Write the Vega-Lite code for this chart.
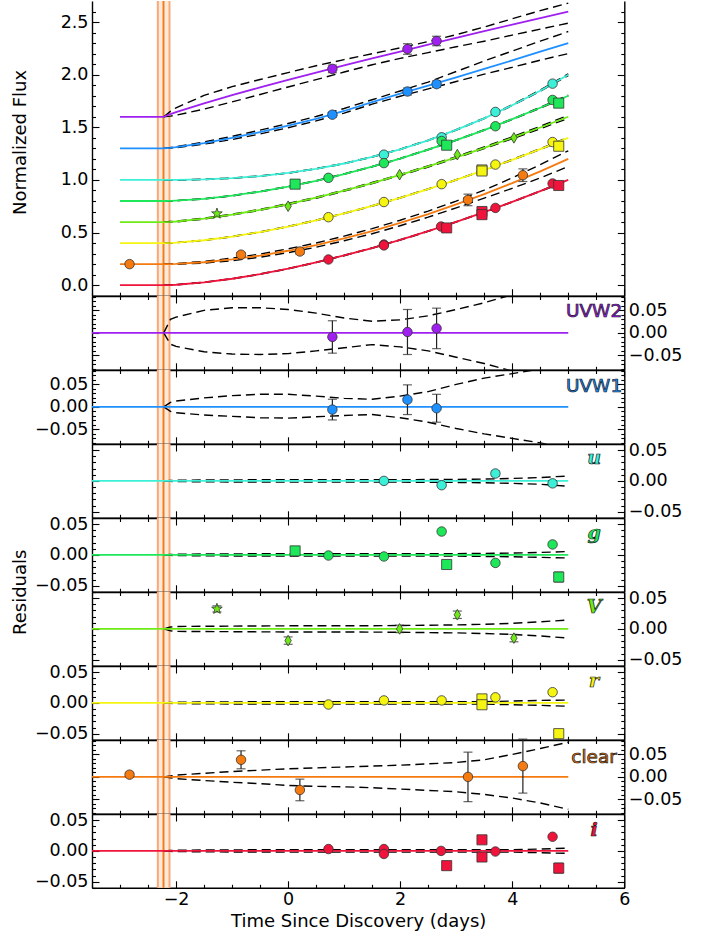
{
"$schema":"https://vega.github.io/schema/vega-lite/v6.json",
"background":"white",
"padding":{"left":11,"top":0,"right":5,"bottom":5},
"spacing":0,
"bounds":"flush",
"config":{
 "view":{"stroke":null},
 "axis":{"labelFont":"DejaVu Sans","labelFontSize":17.5,"labelColor":"#000","titleFont":"DejaVu Sans","titleFontSize":18,"titleFontWeight":"normal","titleColor":"#000","domainColor":"#000","domainWidth":1.4,"tickColor":"#000","tickWidth":1.1,"grid":false,"labelFlush":false,"labelOverlap":false}
},
"datasets":{
 "t0":[{"lo":-2.325,"mid":-2.224,"hi":-2.117}],
 "obs":[
  {"b":"UVW2","m":"circle","t":0.79,"flux":2.055,"res":-0.009,"err":0.036,"flo":2.019,"fhi":2.091,"rlo":-0.045,"rhi":0.027},
  {"b":"UVW2","m":"circle","t":2.13,"flux":2.244,"res":0.002,"err":0.05,"flo":2.194,"fhi":2.294,"rlo":-0.048,"rhi":0.052},
  {"b":"UVW2","m":"circle","t":2.65,"flux":2.32,"res":0.01,"err":0.045,"flo":2.275,"fhi":2.365,"rlo":-0.035,"rhi":0.055},
  {"b":"UVW1","m":"circle","t":0.79,"flux":1.62,"res":-0.006,"err":0.023,"flo":1.597,"fhi":1.643,"rlo":-0.029,"rhi":0.017},
  {"b":"UVW1","m":"circle","t":2.13,"flux":1.84,"res":0.016,"err":0.033,"flo":1.807,"fhi":1.873,"rlo":-0.017,"rhi":0.049},
  {"b":"UVW1","m":"circle","t":2.65,"flux":1.91,"res":-0.003,"err":0.031,"flo":1.879,"fhi":1.941,"rlo":-0.034,"rhi":0.028},
  {"b":"u","m":"circle","t":1.71,"flux":1.24,"res":0.0,"err":0.002,"flo":1.238,"fhi":1.242,"rlo":-0.002,"rhi":0.002},
  {"b":"u","m":"circle","t":2.74,"flux":1.405,"res":-0.007,"err":0.002,"flo":1.403,"fhi":1.407,"rlo":-0.009,"rhi":-0.005},
  {"b":"u","m":"circle","t":3.7,"flux":1.646,"res":0.012,"err":0.004,"flo":1.642,"fhi":1.65,"rlo":0.008,"rhi":0.016},
  {"b":"u","m":"circle","t":4.72,"flux":1.915,"res":-0.004,"err":0.004,"flo":1.911,"fhi":1.919,"rlo":-0.008,"rhi":0.0},
  {"b":"g","m":"square","t":0.125,"flux":0.96,"res":0.0065,"err":0.002,"flo":0.958,"fhi":0.962,"rlo":0.0045,"rhi":0.0085},
  {"b":"g","m":"circle","t":0.72,"flux":1.02,"res":-0.001,"err":0.002,"flo":1.018,"fhi":1.022,"rlo":-0.003,"rhi":0.001},
  {"b":"g","m":"circle","t":1.71,"flux":1.16,"res":-0.0026,"err":0.002,"flo":1.158,"fhi":1.162,"rlo":-0.0046,"rhi":-0.0006},
  {"b":"g","m":"circle","t":2.74,"flux":1.37,"res":0.038,"err":0.003,"flo":1.367,"fhi":1.373,"rlo":0.035,"rhi":0.041},
  {"b":"g","m":"square","t":2.83,"flux":1.33,"res":-0.0156,"err":0.002,"flo":1.328,"fhi":1.332,"rlo":-0.0176,"rhi":-0.0136},
  {"b":"g","m":"circle","t":3.7,"flux":1.51,"res":-0.013,"err":0.002,"flo":1.508,"fhi":1.512,"rlo":-0.015,"rhi":-0.011},
  {"b":"g","m":"circle","t":4.72,"flux":1.76,"res":0.017,"err":0.003,"flo":1.757,"fhi":1.763,"rlo":0.014,"rhi":0.02},
  {"b":"g","m":"square","t":4.83,"flux":1.73,"res":-0.036,"err":0.008,"flo":1.722,"fhi":1.738,"rlo":-0.044,"rhi":-0.028},
  {"b":"V","m":"star","t":-1.27,"flux":0.68,"res":0.0325,"err":0.005,"flo":0.675,"fhi":0.685,"rlo":0.0275,"rhi":0.0375},
  {"b":"V","m":"diamond","t":0.0,"flux":0.75,"res":-0.019,"err":0.006,"flo":0.744,"fhi":0.756,"rlo":-0.025,"rhi":-0.013},
  {"b":"V","m":"diamond","t":1.99,"flux":1.05,"res":0.0,"err":0.006,"flo":1.044,"fhi":1.056,"rlo":-0.006,"rhi":0.006},
  {"b":"V","m":"diamond","t":3.02,"flux":1.24,"res":0.023,"err":0.006,"flo":1.234,"fhi":1.246,"rlo":0.017,"rhi":0.029},
  {"b":"V","m":"diamond","t":4.03,"flux":1.4,"res":-0.015,"err":0.006,"flo":1.394,"fhi":1.406,"rlo":-0.021,"rhi":-0.009},
  {"b":"r","m":"circle","t":0.72,"flux":0.646,"res":-0.0026,"err":0.002,"flo":0.644,"fhi":0.648,"rlo":-0.0046,"rhi":-0.0006},
  {"b":"r","m":"circle","t":1.71,"flux":0.79,"res":0.004,"err":0.002,"flo":0.788,"fhi":0.792,"rlo":0.002,"rhi":0.006},
  {"b":"r","m":"circle","t":2.74,"flux":0.96,"res":0.004,"err":0.002,"flo":0.958,"fhi":0.962,"rlo":0.002,"rhi":0.006},
  {"b":"r","m":"square","t":3.46,"flux":1.095,"res":0.0065,"err":0.002,"flo":1.093,"fhi":1.097,"rlo":0.0045,"rhi":0.0085},
  {"b":"r","m":"square","t":3.46,"flux":1.085,"res":-0.003,"err":0.002,"flo":1.083,"fhi":1.087,"rlo":-0.005,"rhi":-0.001},
  {"b":"r","m":"circle","t":3.7,"flux":1.146,"res":0.009,"err":0.002,"flo":1.144,"fhi":1.148,"rlo":0.007,"rhi":0.011},
  {"b":"r","m":"circle","t":4.72,"flux":1.36,"res":0.0174,"err":0.002,"flo":1.358,"fhi":1.362,"rlo":0.0154,"rhi":0.0194},
  {"b":"r","m":"square","t":4.83,"flux":1.32,"res":-0.05,"err":0.003,"flo":1.317,"fhi":1.323,"rlo":-0.053,"rhi":-0.047},
  {"b":"clear","m":"circle","t":-2.83,"flux":0.2,"res":0.005,"err":0.004,"flo":0.196,"fhi":0.204,"rlo":0.001,"rhi":0.009},
  {"b":"clear","m":"circle","t":-0.84,"flux":0.29,"res":0.038,"err":0.02,"flo":0.27,"fhi":0.31,"rlo":0.018,"rhi":0.058},
  {"b":"clear","m":"circle","t":0.21,"flux":0.32,"res":-0.029,"err":0.024,"flo":0.296,"fhi":0.344,"rlo":-0.053,"rhi":-0.005},
  {"b":"clear","m":"circle","t":3.21,"flux":0.81,"res":0.0,"err":0.055,"flo":0.755,"fhi":0.865,"rlo":-0.055,"rhi":0.055},
  {"b":"clear","m":"circle","t":4.19,"flux":1.045,"res":0.024,"err":0.06,"flo":0.985,"fhi":1.105,"rlo":-0.036,"rhi":0.084},
  {"b":"i","m":"circle","t":0.72,"flux":0.244,"res":0.003,"err":0.002,"flo":0.242,"fhi":0.246,"rlo":0.001,"rhi":0.005},
  {"b":"i","m":"circle","t":1.71,"flux":0.386,"res":0.003,"err":0.002,"flo":0.384,"fhi":0.388,"rlo":0.001,"rhi":0.005},
  {"b":"i","m":"circle","t":1.71,"flux":0.378,"res":-0.005,"err":0.002,"flo":0.376,"fhi":0.38,"rlo":-0.007,"rhi":-0.003},
  {"b":"i","m":"circle","t":2.73,"flux":0.557,"res":0.0,"err":0.002,"flo":0.555,"fhi":0.559,"rlo":-0.002,"rhi":0.002},
  {"b":"i","m":"square","t":2.83,"flux":0.544,"res":-0.024,"err":0.002,"flo":0.542,"fhi":0.546,"rlo":-0.026,"rhi":-0.022},
  {"b":"i","m":"square","t":3.46,"flux":0.7,"res":0.018,"err":0.005,"flo":0.695,"fhi":0.705,"rlo":0.013,"rhi":0.023},
  {"b":"i","m":"square","t":3.46,"flux":0.67,"res":-0.01,"err":0.005,"flo":0.665,"fhi":0.675,"rlo":-0.015,"rhi":-0.005},
  {"b":"i","m":"circle","t":3.7,"flux":0.734,"res":-0.001,"err":0.002,"flo":0.732,"fhi":0.736,"rlo":-0.003,"rhi":0.001},
  {"b":"i","m":"circle","t":4.72,"flux":0.966,"res":0.023,"err":0.003,"flo":0.963,"fhi":0.969,"rlo":0.02,"rhi":0.026},
  {"b":"i","m":"square","t":4.83,"flux":0.947,"res":-0.028,"err":0.008,"flo":0.939,"fhi":0.955,"rlo":-0.036,"rhi":-0.02}
 ],
 "model":[
  {"b":"UVW2","t":-3,"f":1.6,"fu":null,"fl":null,"ru":null,"rl":null},
  {"b":"UVW2","t":-2.22,"f":1.6,"fu":1.6,"fl":1.6,"ru":0,"rl":0},
  {"b":"UVW2","t":-2.1,"f":1.626,"fu":1.651,"fl":1.606,"ru":0.03,"rl":-0.025},
  {"b":"UVW2","t":-2,"f":1.645,"fu":1.685,"fl":1.615,"ru":0.035,"rl":-0.03},
  {"b":"UVW2","t":-1.5,"f":1.728,"fu":1.803,"fl":1.673,"ru":0.05,"rl":-0.042},
  {"b":"UVW2","t":-1,"f":1.806,"fu":1.886,"fl":1.741,"ru":0.056,"rl":-0.047},
  {"b":"UVW2","t":-0.5,"f":1.879,"fu":1.954,"fl":1.812,"ru":0.056,"rl":-0.048},
  {"b":"UVW2","t":0,"f":1.95,"fu":2.02,"fl":1.883,"ru":0.052,"rl":-0.046},
  {"b":"UVW2","t":0.5,"f":2.019,"fu":2.085,"fl":1.953,"ru":0.044,"rl":-0.04},
  {"b":"UVW2","t":1,"f":2.088,"fu":2.143,"fl":2.025,"ru":0.033,"rl":-0.033},
  {"b":"UVW2","t":1.5,"f":2.154,"fu":2.199,"fl":2.094,"ru":0.026,"rl":-0.026},
  {"b":"UVW2","t":2,"f":2.22,"fu":2.255,"fl":2.155,"ru":0.029,"rl":-0.031},
  {"b":"UVW2","t":2.5,"f":2.285,"fu":2.315,"fl":2.21,"ru":0.038,"rl":-0.04},
  {"b":"UVW2","t":3,"f":2.35,"fu":2.38,"fl":2.265,"ru":0.052,"rl":-0.054},
  {"b":"UVW2","t":3.5,"f":2.413,"fu":2.453,"fl":2.318,"ru":0.067,"rl":-0.068},
  {"b":"UVW2","t":4,"f":2.476,"fu":2.531,"fl":2.376,"ru":0.085,"rl":-0.085},
  {"b":"UVW2","t":4.5,"f":2.538,"fu":2.608,"fl":2.433,"ru":0.105,"rl":-0.105},
  {"b":"UVW2","t":5,"f":2.6,"fu":2.68,"fl":2.49,"ru":0.125,"rl":-0.125},
  {"b":"UVW1","t":-3,"f":1.3,"fu":null,"fl":null,"ru":null,"rl":null},
  {"b":"UVW1","t":-2.22,"f":1.3,"fu":1.3,"fl":1.3,"ru":0,"rl":0},
  {"b":"UVW1","t":-2.1,"f":1.305,"fu":1.308,"fl":1.302,"ru":0.01,"rl":-0.01},
  {"b":"UVW1","t":-2,"f":1.311,"fu":1.316,"fl":1.306,"ru":0.013,"rl":-0.013},
  {"b":"UVW1","t":-1.5,"f":1.35,"fu":1.36,"fl":1.34,"ru":0.02,"rl":-0.018},
  {"b":"UVW1","t":-1,"f":1.399,"fu":1.414,"fl":1.384,"ru":0.025,"rl":-0.021},
  {"b":"UVW1","t":-0.5,"f":1.455,"fu":1.473,"fl":1.437,"ru":0.028,"rl":-0.024},
  {"b":"UVW1","t":0,"f":1.516,"fu":1.536,"fl":1.496,"ru":0.028,"rl":-0.025},
  {"b":"UVW1","t":0.5,"f":1.581,"fu":1.603,"fl":1.561,"ru":0.024,"rl":-0.022},
  {"b":"UVW1","t":1,"f":1.655,"fu":1.679,"fl":1.635,"ru":0.019,"rl":-0.019},
  {"b":"UVW1","t":1.5,"f":1.74,"fu":1.762,"fl":1.72,"ru":0.017,"rl":-0.017},
  {"b":"UVW1","t":2,"f":1.82,"fu":1.845,"fl":1.795,"ru":0.024,"rl":-0.024},
  {"b":"UVW1","t":2.5,"f":1.895,"fu":1.93,"fl":1.865,"ru":0.034,"rl":-0.034},
  {"b":"UVW1","t":3,"f":1.975,"fu":2.03,"fl":1.935,"ru":0.05,"rl":-0.048},
  {"b":"UVW1","t":3.5,"f":2.055,"fu":2.13,"fl":2.005,"ru":0.064,"rl":-0.06},
  {"b":"UVW1","t":4,"f":2.135,"fu":2.225,"fl":2.07,"ru":0.074,"rl":-0.07},
  {"b":"UVW1","t":4.5,"f":2.218,"fu":2.318,"fl":2.138,"ru":0.084,"rl":-0.08},
  {"b":"UVW1","t":5,"f":2.3,"fu":2.41,"fl":2.2,"ru":0.095,"rl":-0.092},
  {"b":"u","t":-3,"f":1.0,"fu":null,"fl":null,"ru":null,"rl":null},
  {"b":"u","t":-2.22,"f":1.0,"fu":1.0,"fl":1.0,"ru":0,"rl":0},
  {"b":"u","t":-2.1,"f":1.0,"fu":1.0008,"fl":0.9992,"ru":0.0008,"rl":-0.0008},
  {"b":"u","t":-2,"f":1.0003,"fu":1.0013,"fl":0.9993,"ru":0.001,"rl":-0.001},
  {"b":"u","t":-1.5,"f":1.005,"fu":1.0065,"fl":1.0035,"ru":0.0015,"rl":-0.0015},
  {"b":"u","t":-1,"f":1.017,"fu":1.0187,"fl":1.0153,"ru":0.0017,"rl":-0.0017},
  {"b":"u","t":-0.5,"f":1.037,"fu":1.0388,"fl":1.0352,"ru":0.0018,"rl":-0.0018},
  {"b":"u","t":0,"f":1.066,"fu":1.068,"fl":1.064,"ru":0.002,"rl":-0.002},
  {"b":"u","t":0.5,"f":1.106,"fu":1.108,"fl":1.104,"ru":0.002,"rl":-0.002},
  {"b":"u","t":1,"f":1.156,"fu":1.158,"fl":1.154,"ru":0.002,"rl":-0.002},
  {"b":"u","t":1.5,"f":1.218,"fu":1.22,"fl":1.216,"ru":0.002,"rl":-0.002},
  {"b":"u","t":2,"f":1.291,"fu":1.293,"fl":1.289,"ru":0.002,"rl":-0.002},
  {"b":"u","t":2.5,"f":1.376,"fu":1.3782,"fl":1.3738,"ru":0.0022,"rl":-0.0022},
  {"b":"u","t":3,"f":1.475,"fu":1.4775,"fl":1.4725,"ru":0.0025,"rl":-0.0025},
  {"b":"u","t":3.5,"f":1.585,"fu":1.588,"fl":1.582,"ru":0.003,"rl":-0.003},
  {"b":"u","t":4,"f":1.71,"fu":1.714,"fl":1.706,"ru":0.004,"rl":-0.004},
  {"b":"u","t":4.5,"f":1.848,"fu":1.8535,"fl":1.8425,"ru":0.0055,"rl":-0.0055},
  {"b":"u","t":5,"f":2.0,"fu":2.008,"fl":1.992,"ru":0.008,"rl":-0.0086},
  {"b":"g","t":-3,"f":0.8,"fu":null,"fl":null,"ru":null,"rl":null},
  {"b":"g","t":-2.22,"f":0.8,"fu":0.8,"fl":0.8,"ru":0,"rl":0},
  {"b":"g","t":-2.1,"f":0.8006,"fu":0.8014,"fl":0.7998,"ru":0.0008,"rl":-0.0008},
  {"b":"g","t":-2,"f":0.803,"fu":0.804,"fl":0.802,"ru":0.001,"rl":-0.001},
  {"b":"g","t":-1.5,"f":0.82,"fu":0.8215,"fl":0.8185,"ru":0.0015,"rl":-0.0015},
  {"b":"g","t":-1,"f":0.85,"fu":0.8517,"fl":0.8483,"ru":0.0017,"rl":-0.0017},
  {"b":"g","t":-0.5,"f":0.889,"fu":0.8908,"fl":0.8872,"ru":0.0018,"rl":-0.0018},
  {"b":"g","t":0,"f":0.936,"fu":0.938,"fl":0.934,"ru":0.002,"rl":-0.002},
  {"b":"g","t":0.5,"f":0.992,"fu":0.994,"fl":0.99,"ru":0.002,"rl":-0.002},
  {"b":"g","t":1,"f":1.056,"fu":1.058,"fl":1.054,"ru":0.002,"rl":-0.002},
  {"b":"g","t":1.5,"f":1.126,"fu":1.128,"fl":1.124,"ru":0.002,"rl":-0.002},
  {"b":"g","t":2,"f":1.203,"fu":1.205,"fl":1.201,"ru":0.002,"rl":-0.002},
  {"b":"g","t":2.5,"f":1.288,"fu":1.29,"fl":1.286,"ru":0.002,"rl":-0.002},
  {"b":"g","t":3,"f":1.378,"fu":1.38,"fl":1.376,"ru":0.002,"rl":-0.002},
  {"b":"g","t":3.5,"f":1.474,"fu":1.4765,"fl":1.4715,"ru":0.0025,"rl":-0.0025},
  {"b":"g","t":4,"f":1.577,"fu":1.58,"fl":1.574,"ru":0.003,"rl":-0.003},
  {"b":"g","t":4.5,"f":1.686,"fu":1.69,"fl":1.682,"ru":0.004,"rl":-0.004},
  {"b":"g","t":5,"f":1.8,"fu":1.8055,"fl":1.7945,"ru":0.0055,"rl":-0.005},
  {"b":"V","t":-3,"f":0.6,"fu":null,"fl":null,"ru":null,"rl":null},
  {"b":"V","t":-2.22,"f":0.6,"fu":0.6,"fl":0.6,"ru":0,"rl":0},
  {"b":"V","t":-2.1,"f":0.602,"fu":0.605,"fl":0.599,"ru":0.003,"rl":-0.003},
  {"b":"V","t":-2,"f":0.605,"fu":0.609,"fl":0.601,"ru":0.004,"rl":-0.004},
  {"b":"V","t":-1.5,"f":0.632,"fu":0.6363,"fl":0.6277,"ru":0.0043,"rl":-0.0043},
  {"b":"V","t":-1,"f":0.67,"fu":0.6745,"fl":0.6655,"ru":0.0045,"rl":-0.0045},
  {"b":"V","t":-0.5,"f":0.716,"fu":0.7208,"fl":0.7112,"ru":0.0048,"rl":-0.0048},
  {"b":"V","t":0,"f":0.771,"fu":0.776,"fl":0.766,"ru":0.005,"rl":-0.005},
  {"b":"V","t":0.5,"f":0.831,"fu":0.836,"fl":0.826,"ru":0.005,"rl":-0.005},
  {"b":"V","t":1,"f":0.898,"fu":0.903,"fl":0.893,"ru":0.005,"rl":-0.005},
  {"b":"V","t":1.5,"f":0.97,"fu":0.9752,"fl":0.9648,"ru":0.0052,"rl":-0.0052},
  {"b":"V","t":2,"f":1.047,"fu":1.0525,"fl":1.0415,"ru":0.0055,"rl":-0.0055},
  {"b":"V","t":2.5,"f":1.128,"fu":1.134,"fl":1.122,"ru":0.006,"rl":-0.006},
  {"b":"V","t":3,"f":1.215,"fu":1.2215,"fl":1.2085,"ru":0.0065,"rl":-0.0065},
  {"b":"V","t":3.5,"f":1.305,"fu":1.3125,"fl":1.2975,"ru":0.0075,"rl":-0.0075},
  {"b":"V","t":4,"f":1.4,"fu":1.409,"fl":1.391,"ru":0.009,"rl":-0.009},
  {"b":"V","t":4.5,"f":1.498,"fu":1.5095,"fl":1.4865,"ru":0.0115,"rl":-0.0115},
  {"b":"V","t":5,"f":1.6,"fu":1.6145,"fl":1.585,"ru":0.0145,"rl":-0.015},
  {"b":"r","t":-3,"f":0.4,"fu":null,"fl":null,"ru":null,"rl":null},
  {"b":"r","t":-2.22,"f":0.4,"fu":0.4,"fl":0.4,"ru":0,"rl":0},
  {"b":"r","t":-2.1,"f":0.4013,"fu":0.4021,"fl":0.4005,"ru":0.0008,"rl":-0.0008},
  {"b":"r","t":-2,"f":0.404,"fu":0.405,"fl":0.403,"ru":0.001,"rl":-0.001},
  {"b":"r","t":-1.5,"f":0.427,"fu":0.4285,"fl":0.4255,"ru":0.0015,"rl":-0.0015},
  {"b":"r","t":-1,"f":0.461,"fu":0.4627,"fl":0.4593,"ru":0.0017,"rl":-0.0017},
  {"b":"r","t":-0.5,"f":0.505,"fu":0.5068,"fl":0.5032,"ru":0.0018,"rl":-0.0018},
  {"b":"r","t":0,"f":0.557,"fu":0.559,"fl":0.555,"ru":0.002,"rl":-0.002},
  {"b":"r","t":0.5,"f":0.616,"fu":0.618,"fl":0.614,"ru":0.002,"rl":-0.002},
  {"b":"r","t":1,"f":0.682,"fu":0.684,"fl":0.68,"ru":0.002,"rl":-0.002},
  {"b":"r","t":1.5,"f":0.753,"fu":0.755,"fl":0.751,"ru":0.002,"rl":-0.002},
  {"b":"r","t":2,"f":0.83,"fu":0.832,"fl":0.828,"ru":0.002,"rl":-0.002},
  {"b":"r","t":2.5,"f":0.913,"fu":0.915,"fl":0.911,"ru":0.002,"rl":-0.002},
  {"b":"r","t":3,"f":1.001,"fu":1.003,"fl":0.999,"ru":0.002,"rl":-0.002},
  {"b":"r","t":3.5,"f":1.094,"fu":1.096,"fl":1.092,"ru":0.002,"rl":-0.002},
  {"b":"r","t":4,"f":1.191,"fu":1.194,"fl":1.188,"ru":0.003,"rl":-0.003},
  {"b":"r","t":4.5,"f":1.293,"fu":1.297,"fl":1.289,"ru":0.004,"rl":-0.004},
  {"b":"r","t":5,"f":1.4,"fu":1.4045,"fl":1.3945,"ru":0.0045,"rl":-0.0055},
  {"b":"clear","t":-3,"f":0.2,"fu":null,"fl":null,"ru":null,"rl":null},
  {"b":"clear","t":-2.22,"f":0.2,"fu":0.2,"fl":0.2,"ru":0,"rl":0},
  {"b":"clear","t":-2.1,"f":0.2008,"fu":0.2028,"fl":0.1988,"ru":0.002,"rl":-0.002},
  {"b":"clear","t":-2,"f":0.202,"fu":0.206,"fl":0.198,"ru":0.004,"rl":-0.004},
  {"b":"clear","t":-1.5,"f":0.218,"fu":0.226,"fl":0.21,"ru":0.008,"rl":-0.008},
  {"b":"clear","t":-1,"f":0.245,"fu":0.257,"fl":0.233,"ru":0.012,"rl":-0.012},
  {"b":"clear","t":-0.5,"f":0.281,"fu":0.296,"fl":0.266,"ru":0.015,"rl":-0.015},
  {"b":"clear","t":0,"f":0.327,"fu":0.345,"fl":0.309,"ru":0.018,"rl":-0.019},
  {"b":"clear","t":0.5,"f":0.381,"fu":0.401,"fl":0.361,"ru":0.02,"rl":-0.021},
  {"b":"clear","t":1,"f":0.444,"fu":0.466,"fl":0.422,"ru":0.022,"rl":-0.022},
  {"b":"clear","t":1.5,"f":0.513,"fu":0.537,"fl":0.489,"ru":0.024,"rl":-0.024},
  {"b":"clear","t":2,"f":0.591,"fu":0.617,"fl":0.565,"ru":0.026,"rl":-0.027},
  {"b":"clear","t":2.5,"f":0.675,"fu":0.704,"fl":0.646,"ru":0.029,"rl":-0.03},
  {"b":"clear","t":3,"f":0.767,"fu":0.799,"fl":0.735,"ru":0.032,"rl":-0.033},
  {"b":"clear","t":3.5,"f":0.865,"fu":0.903,"fl":0.827,"ru":0.038,"rl":-0.039},
  {"b":"clear","t":4,"f":0.97,"fu":1.02,"fl":0.92,"ru":0.05,"rl":-0.047},
  {"b":"clear","t":4.5,"f":1.082,"fu":1.145,"fl":1.019,"ru":0.063,"rl":-0.058},
  {"b":"clear","t":5,"f":1.2,"fu":1.277,"fl":1.128,"ru":0.077,"rl":-0.072},
  {"b":"i","t":-3,"f":0.0,"fu":null,"fl":null,"ru":null,"rl":null},
  {"b":"i","t":-2.22,"f":0.0,"fu":0.0,"fl":0.0,"ru":0,"rl":0},
  {"b":"i","t":-2.1,"f":0.0013,"fu":0.0021,"fl":0.0005,"ru":0.0008,"rl":-0.0008},
  {"b":"i","t":-2,"f":0.004,"fu":0.005,"fl":0.003,"ru":0.001,"rl":-0.001},
  {"b":"i","t":-1.5,"f":0.027,"fu":0.0285,"fl":0.0255,"ru":0.0015,"rl":-0.0015},
  {"b":"i","t":-1,"f":0.061,"fu":0.0627,"fl":0.0593,"ru":0.0017,"rl":-0.0017},
  {"b":"i","t":-0.5,"f":0.105,"fu":0.1068,"fl":0.1032,"ru":0.0018,"rl":-0.0018},
  {"b":"i","t":0,"f":0.157,"fu":0.159,"fl":0.155,"ru":0.002,"rl":-0.002},
  {"b":"i","t":0.5,"f":0.216,"fu":0.218,"fl":0.214,"ru":0.002,"rl":-0.002},
  {"b":"i","t":1,"f":0.282,"fu":0.284,"fl":0.28,"ru":0.002,"rl":-0.002},
  {"b":"i","t":1.5,"f":0.353,"fu":0.355,"fl":0.351,"ru":0.002,"rl":-0.002},
  {"b":"i","t":2,"f":0.43,"fu":0.432,"fl":0.428,"ru":0.002,"rl":-0.002},
  {"b":"i","t":2.5,"f":0.513,"fu":0.515,"fl":0.511,"ru":0.002,"rl":-0.002},
  {"b":"i","t":3,"f":0.601,"fu":0.603,"fl":0.599,"ru":0.002,"rl":-0.002},
  {"b":"i","t":3.5,"f":0.694,"fu":0.696,"fl":0.692,"ru":0.002,"rl":-0.002},
  {"b":"i","t":4,"f":0.791,"fu":0.793,"fl":0.789,"ru":0.002,"rl":-0.002},
  {"b":"i","t":4.5,"f":0.893,"fu":0.896,"fl":0.89,"ru":0.003,"rl":-0.003},
  {"b":"i","t":5,"f":1.0,"fu":1.0045,"fl":0.996,"ru":0.0045,"rl":-0.004}
 ]
},
"vconcat":[
 {"width":532.3,"height":294.7,
  "layer":[
   {"data":{"name":"t0"},"mark":{"type":"rect","color":"#fdeadb"},"encoding":{"x":{"field":"lo","type":"quantitative","scale":{"domain":[-3.5,6],"nice":false,"zero":false},"axis":null},"x2":{"field":"hi"}}},
   {"data":{"name":"t0"},"mark":{"type":"rule","color":"#f8a978","strokeWidth":2},"encoding":{"x":{"field":"lo","type":"quantitative","axis":null}}},
   {"data":{"name":"t0"},"mark":{"type":"rule","color":"#f8a978","strokeWidth":2},"encoding":{"x":{"field":"hi","type":"quantitative","axis":null}}},
   {"data":{"name":"t0"},"mark":{"type":"rule","color":"#f07d1e","strokeWidth":2},"encoding":{"x":{"field":"mid","type":"quantitative","axis":null}}},
   {"data":{"name":"model"},"mark":{"type":"line","color":"#000","strokeWidth":1.4,"strokeDash":[9,5],"clip":true},"encoding":{"x":{"field":"t","type":"quantitative","scale":{"domain":[-3.5,6],"nice":false,"zero":false},"axis":{"orient":"bottom","values":[-3.5,-3,-2.5,-2,-1.5,-1,-0.5,0,0.5,1,1.5,2,2.5,3,3.5,4,4.5,5,5.5,6],"labels":false,"title":null,"tickSize":{"condition":{"test":"abs(datum.value % 2) < 0.001","value":-7},"value":-3.5}}},"y":{"field":"fu","type":"quantitative","scale":{"domain":[-0.1,2.7],"nice":false,"zero":false},"axis":{"orient":"right","values":[-0.1,0,0.1,0.2,0.3,0.4,0.5,0.6,0.7,0.8,0.9,1,1.1,1.2,1.3,1.4,1.5,1.6,1.7,1.8,1.9,2,2.1,2.2,2.3,2.4,2.5,2.6],"labels":false,"title":null,"tickSize":{"condition":{"test":"abs(datum.value*2 - round(datum.value*2)) < 0.001","value":-7},"value":-3.5}}},"detail":{"field":"b","type":"nominal"}}},
   {"data":{"name":"model"},"mark":{"type":"line","color":"#000","strokeWidth":1.4,"strokeDash":[9,5],"clip":true},"encoding":{"x":{"field":"t","type":"quantitative","axis":null},"y":{"field":"fl","type":"quantitative","axis":null},"detail":{"field":"b","type":"nominal"}}},
   {"data":{"name":"model"},"mark":{"type":"line","strokeWidth":1.8,"clip":true},"encoding":{"x":{"field":"t","type":"quantitative","axis":null},"y":{"field":"f","type":"quantitative","axis":{"orient":"left","values":[-0.1,0,0.1,0.2,0.3,0.4,0.5,0.6,0.7,0.8,0.9,1,1.1,1.2,1.3,1.4,1.5,1.6,1.7,1.8,1.9,2,2.1,2.2,2.3,2.4,2.5,2.6],"title":"Normalized Flux","titleX":-71.7,"titleY":141,"titleBaseline":"middle","labelExpr":"abs(datum.value*2 - round(datum.value*2)) < 0.001 ? format(datum.value, '.1f') : ''","labelPadding":11,"tickSize":{"condition":{"test":"abs(datum.value*2 - round(datum.value*2)) < 0.001","value":-7},"value":-3.5}}},"color":{"field":"b","type":"nominal","scale":{"domain":["UVW2","UVW1","u","g","V","r","clear","i"],"range":["#a020f0","#1e90ff","#3cf0d8","#1ee85a","#6eea14","#f5f511","#f57a0f","#f0143c"]},"legend":null}}},
   {"data":{"name":"obs"},"transform":[{"filter":"datum.err >= 0.01"}],"mark":{"type":"rule","color":"#222","strokeWidth":1.2},"encoding":{"x":{"field":"t","type":"quantitative","axis":null},"y":{"field":"flo","type":"quantitative","axis":null},"y2":{"field":"fhi"}}},
   {"data":{"name":"obs"},"transform":[{"filter":"datum.err >= 0.01"}],"mark":{"type":"tick","orient":"horizontal","size":9,"thickness":1.2,"color":"#222"},"encoding":{"x":{"field":"t","type":"quantitative","axis":null},"y":{"field":"flo","type":"quantitative","axis":null}}},
   {"data":{"name":"obs"},"transform":[{"filter":"datum.err >= 0.01"}],"mark":{"type":"tick","orient":"horizontal","size":9,"thickness":1.2,"color":"#222"},"encoding":{"x":{"field":"t","type":"quantitative","axis":null},"y":{"field":"fhi","type":"quantitative","axis":null}}},
   {"data":{"name":"obs"},"mark":{"type":"point","filled":true,"opacity":1,"stroke":"#333","strokeWidth":0.8,"clip":true},"encoding":{"x":{"field":"t","type":"quantitative","axis":null},"y":{"field":"flux","type":"quantitative","axis":null},"fill":{"field":"b","type":"nominal","scale":{"domain":["UVW2","UVW1","u","g","V","r","clear","i"],"range":["#a020f0","#1e90ff","#3cf0d8","#1ee85a","#6eea14","#f5f511","#f57a0f","#f0143c"]},"legend":null},"shape":{"field":"m","type":"nominal","scale":{"domain":["circle","square","diamond","star"],"range":["circle","square","M0,-1L0.6,0L0,1L-0.6,0Z","M0,-1L0.235,-0.324L0.951,-0.309L0.38,0.124L0.588,0.809L0,0.4L-0.588,0.809L-0.38,0.124L-0.951,-0.309L-0.235,-0.324Z"]},"legend":null},"size":{"field":"m","type":"ordinal","scale":{"domain":["circle","square","diamond","star"],"range":[90,125,150,110]},"legend":null}}}
  ],
  "resolve":{"axis":{"x":"independent","y":"independent"}}
 },
 {"width":532.3,"height":73.8,
  "layer":[
   {"data":{"name":"t0"},"mark":{"type":"rect","color":"#fdeadb"},"encoding":{"x":{"field":"lo","type":"quantitative","scale":{"domain":[-3.5,6],"nice":false,"zero":false},"axis":null},"x2":{"field":"hi"}}},
   {"data":{"name":"t0"},"mark":{"type":"rule","color":"#f8a978","strokeWidth":2},"encoding":{"x":{"field":"lo","type":"quantitative","axis":null}}},
   {"data":{"name":"t0"},"mark":{"type":"rule","color":"#f8a978","strokeWidth":2},"encoding":{"x":{"field":"hi","type":"quantitative","axis":null}}},
   {"data":{"name":"t0"},"mark":{"type":"rule","color":"#f07d1e","strokeWidth":2},"encoding":{"x":{"field":"mid","type":"quantitative","axis":null}}},
   {"data":{"name":"model"},"transform":[{"filter":"datum.b === 'UVW2'"}],"mark":{"type":"line","color":"#000","strokeWidth":1.4,"strokeDash":[9,5],"clip":true},"encoding":{"x":{"field":"t","type":"quantitative","scale":{"domain":[-3.5,6],"nice":false,"zero":false},"axis":{"orient":"bottom","values":[-3.5,-3,-2.5,-2,-1.5,-1,-0.5,0,0.5,1,1.5,2,2.5,3,3.5,4,4.5,5,5.5,6],"labels":false,"title":null,"tickSize":{"condition":{"test":"abs(datum.value % 2) < 0.001","value":-7},"value":-3.5}}},"y":{"field":"ru","type":"quantitative","scale":{"domain":[-0.082,0.082],"nice":false,"zero":false},"axis":{"orient":"left","values":[-0.08,-0.07,-0.06,-0.05,-0.04,-0.03,-0.02,-0.01,0,0.01,0.02,0.03,0.04,0.05,0.06,0.07,0.08],"labels":false,"title":null,"tickSize":{"condition":{"test":"abs(datum.value*20 - round(datum.value*20)) < 0.001","value":-7},"value":-3.5}}}}},
   {"data":{"name":"model"},"transform":[{"filter":"datum.b === 'UVW2'"}],"mark":{"type":"line","color":"#000","strokeWidth":1.4,"strokeDash":[9,5],"clip":true},"encoding":{"x":{"field":"t","type":"quantitative","axis":{"orient":"top","values":[-3.5,-3,-2.5,-2,-1.5,-1,-0.5,0,0.5,1,1.5,2,2.5,3,3.5,4,4.5,5,5.5,6],"labels":false,"title":null,"tickSize":{"condition":{"test":"abs(datum.value % 2) < 0.001","value":-7},"value":-3.5}}},"y":{"field":"rl","type":"quantitative","axis":{"orient":"right","values":[-0.08,-0.07,-0.06,-0.05,-0.04,-0.03,-0.02,-0.01,0,0.01,0.02,0.03,0.04,0.05,0.06,0.07,0.08],"title":null,"labelExpr":"abs(datum.value*20 - round(datum.value*20)) < 0.001 ? format(datum.value, '.2f') : ''","labelPadding":11,"tickSize":{"condition":{"test":"abs(datum.value*20 - round(datum.value*20)) < 0.001","value":-7},"value":-3.5}}}}},
   {"data":{"name":"t0"},"mark":{"type":"rule","color":"#a020f0","strokeWidth":1.8},"encoding":{"x":{"datum":-3.5,"type":"quantitative","axis":null},"x2":{"datum":5},"y":{"datum":0,"type":"quantitative","axis":null}}},
   {"data":{"name":"obs"},"transform":[{"filter":"datum.b === 'UVW2' && datum.err >= 0.004"}],"mark":{"type":"rule","color":"#222","strokeWidth":1.2},"encoding":{"x":{"field":"t","type":"quantitative","axis":null},"y":{"field":"rlo","type":"quantitative","axis":null},"y2":{"field":"rhi"}}},
   {"data":{"name":"obs"},"transform":[{"filter":"datum.b === 'UVW2' && datum.err >= 0.004"}],"mark":{"type":"tick","orient":"horizontal","size":9,"thickness":1.2,"color":"#222"},"encoding":{"x":{"field":"t","type":"quantitative","axis":null},"y":{"field":"rlo","type":"quantitative","axis":null}}},
   {"data":{"name":"obs"},"transform":[{"filter":"datum.b === 'UVW2' && datum.err >= 0.004"}],"mark":{"type":"tick","orient":"horizontal","size":9,"thickness":1.2,"color":"#222"},"encoding":{"x":{"field":"t","type":"quantitative","axis":null},"y":{"field":"rhi","type":"quantitative","axis":null}}},
   {"data":{"name":"obs"},"transform":[{"filter":"datum.b === 'UVW2'"}],"mark":{"type":"point","filled":true,"opacity":1,"stroke":"#333","strokeWidth":0.8,"clip":true},"encoding":{"x":{"field":"t","type":"quantitative","axis":null},"y":{"field":"res","type":"quantitative","axis":null},"fill":{"field":"b","type":"nominal","scale":{"domain":["UVW2","UVW1","u","g","V","r","clear","i"],"range":["#a020f0","#1e90ff","#3cf0d8","#1ee85a","#6eea14","#f5f511","#f57a0f","#f0143c"]},"legend":null},"shape":{"field":"m","type":"nominal","scale":{"domain":["circle","square","diamond","star"],"range":["circle","square","M0,-1L0.6,0L0,1L-0.6,0Z","M0,-1L0.235,-0.324L0.951,-0.309L0.38,0.124L0.588,0.809L0,0.4L-0.588,0.809L-0.38,0.124L-0.951,-0.309L-0.235,-0.324Z"]},"legend":null},"size":{"field":"m","type":"ordinal","scale":{"domain":["circle","square","diamond","star"],"range":[90,125,150,110]},"legend":null}}},
   {"data":{"name":"t0"},"mark":{"type":"text","text":"UVW2","font":"DejaVu Sans","fontSize":18.5,"fill":"#a020f0","stroke":"#111","strokeWidth":0.7,"align":"center","baseline":"middle"},"encoding":{"x":{"datum":5.46,"type":"quantitative","axis":null},"y":{"datum":0.049,"type":"quantitative","axis":null}}}
  ],
  "resolve":{"axis":{"x":"independent","y":"independent"}}
 },
 {"width":532.3,"height":73.8,
  "layer":[
   {"data":{"name":"t0"},"mark":{"type":"rect","color":"#fdeadb"},"encoding":{"x":{"field":"lo","type":"quantitative","scale":{"domain":[-3.5,6],"nice":false,"zero":false},"axis":null},"x2":{"field":"hi"}}},
   {"data":{"name":"t0"},"mark":{"type":"rule","color":"#f8a978","strokeWidth":2},"encoding":{"x":{"field":"lo","type":"quantitative","axis":null}}},
   {"data":{"name":"t0"},"mark":{"type":"rule","color":"#f8a978","strokeWidth":2},"encoding":{"x":{"field":"hi","type":"quantitative","axis":null}}},
   {"data":{"name":"t0"},"mark":{"type":"rule","color":"#f07d1e","strokeWidth":2},"encoding":{"x":{"field":"mid","type":"quantitative","axis":null}}},
   {"data":{"name":"model"},"transform":[{"filter":"datum.b === 'UVW1'"}],"mark":{"type":"line","color":"#000","strokeWidth":1.4,"strokeDash":[9,5],"clip":true},"encoding":{"x":{"field":"t","type":"quantitative","scale":{"domain":[-3.5,6],"nice":false,"zero":false},"axis":{"orient":"bottom","values":[-3.5,-3,-2.5,-2,-1.5,-1,-0.5,0,0.5,1,1.5,2,2.5,3,3.5,4,4.5,5,5.5,6],"labels":false,"title":null,"tickSize":{"condition":{"test":"abs(datum.value % 2) < 0.001","value":-7},"value":-3.5}}},"y":{"field":"ru","type":"quantitative","scale":{"domain":[-0.082,0.082],"nice":false,"zero":false},"axis":{"orient":"left","values":[-0.08,-0.07,-0.06,-0.05,-0.04,-0.03,-0.02,-0.01,0,0.01,0.02,0.03,0.04,0.05,0.06,0.07,0.08],"title":null,"labelExpr":"abs(datum.value*20 - round(datum.value*20)) < 0.001 ? format(datum.value, '.2f') : ''","labelPadding":11,"tickSize":{"condition":{"test":"abs(datum.value*20 - round(datum.value*20)) < 0.001","value":-7},"value":-3.5}}}}},
   {"data":{"name":"model"},"transform":[{"filter":"datum.b === 'UVW1'"}],"mark":{"type":"line","color":"#000","strokeWidth":1.4,"strokeDash":[9,5],"clip":true},"encoding":{"x":{"field":"t","type":"quantitative","axis":{"orient":"top","values":[-3.5,-3,-2.5,-2,-1.5,-1,-0.5,0,0.5,1,1.5,2,2.5,3,3.5,4,4.5,5,5.5,6],"labels":false,"title":null,"tickSize":{"condition":{"test":"abs(datum.value % 2) < 0.001","value":-7},"value":-3.5}}},"y":{"field":"rl","type":"quantitative","axis":{"orient":"right","values":[-0.08,-0.07,-0.06,-0.05,-0.04,-0.03,-0.02,-0.01,0,0.01,0.02,0.03,0.04,0.05,0.06,0.07,0.08],"labels":false,"title":null,"tickSize":{"condition":{"test":"abs(datum.value*20 - round(datum.value*20)) < 0.001","value":-7},"value":-3.5}}}}},
   {"data":{"name":"t0"},"mark":{"type":"rule","color":"#1e90ff","strokeWidth":1.8},"encoding":{"x":{"datum":-3.5,"type":"quantitative","axis":null},"x2":{"datum":5},"y":{"datum":0,"type":"quantitative","axis":null}}},
   {"data":{"name":"obs"},"transform":[{"filter":"datum.b === 'UVW1' && datum.err >= 0.004"}],"mark":{"type":"rule","color":"#222","strokeWidth":1.2},"encoding":{"x":{"field":"t","type":"quantitative","axis":null},"y":{"field":"rlo","type":"quantitative","axis":null},"y2":{"field":"rhi"}}},
   {"data":{"name":"obs"},"transform":[{"filter":"datum.b === 'UVW1' && datum.err >= 0.004"}],"mark":{"type":"tick","orient":"horizontal","size":9,"thickness":1.2,"color":"#222"},"encoding":{"x":{"field":"t","type":"quantitative","axis":null},"y":{"field":"rlo","type":"quantitative","axis":null}}},
   {"data":{"name":"obs"},"transform":[{"filter":"datum.b === 'UVW1' && datum.err >= 0.004"}],"mark":{"type":"tick","orient":"horizontal","size":9,"thickness":1.2,"color":"#222"},"encoding":{"x":{"field":"t","type":"quantitative","axis":null},"y":{"field":"rhi","type":"quantitative","axis":null}}},
   {"data":{"name":"obs"},"transform":[{"filter":"datum.b === 'UVW1'"}],"mark":{"type":"point","filled":true,"opacity":1,"stroke":"#333","strokeWidth":0.8,"clip":true},"encoding":{"x":{"field":"t","type":"quantitative","axis":null},"y":{"field":"res","type":"quantitative","axis":null},"fill":{"field":"b","type":"nominal","scale":{"domain":["UVW2","UVW1","u","g","V","r","clear","i"],"range":["#a020f0","#1e90ff","#3cf0d8","#1ee85a","#6eea14","#f5f511","#f57a0f","#f0143c"]},"legend":null},"shape":{"field":"m","type":"nominal","scale":{"domain":["circle","square","diamond","star"],"range":["circle","square","M0,-1L0.6,0L0,1L-0.6,0Z","M0,-1L0.235,-0.324L0.951,-0.309L0.38,0.124L0.588,0.809L0,0.4L-0.588,0.809L-0.38,0.124L-0.951,-0.309L-0.235,-0.324Z"]},"legend":null},"size":{"field":"m","type":"ordinal","scale":{"domain":["circle","square","diamond","star"],"range":[90,125,150,110]},"legend":null}}},
   {"data":{"name":"t0"},"mark":{"type":"text","text":"UVW1","font":"DejaVu Sans","fontSize":18.5,"fill":"#1e90ff","stroke":"#111","strokeWidth":0.7,"align":"center","baseline":"middle"},"encoding":{"x":{"datum":5.46,"type":"quantitative","axis":null},"y":{"datum":0.046,"type":"quantitative","axis":null}}}
  ],
  "resolve":{"axis":{"x":"independent","y":"independent"}}
 },
 {"width":532.3,"height":73.8,
  "layer":[
   {"data":{"name":"t0"},"mark":{"type":"rect","color":"#fdeadb"},"encoding":{"x":{"field":"lo","type":"quantitative","scale":{"domain":[-3.5,6],"nice":false,"zero":false},"axis":null},"x2":{"field":"hi"}}},
   {"data":{"name":"t0"},"mark":{"type":"rule","color":"#f8a978","strokeWidth":2},"encoding":{"x":{"field":"lo","type":"quantitative","axis":null}}},
   {"data":{"name":"t0"},"mark":{"type":"rule","color":"#f8a978","strokeWidth":2},"encoding":{"x":{"field":"hi","type":"quantitative","axis":null}}},
   {"data":{"name":"t0"},"mark":{"type":"rule","color":"#f07d1e","strokeWidth":2},"encoding":{"x":{"field":"mid","type":"quantitative","axis":null}}},
   {"data":{"name":"model"},"transform":[{"filter":"datum.b === 'u'"}],"mark":{"type":"line","color":"#000","strokeWidth":1.4,"strokeDash":[9,5],"clip":true},"encoding":{"x":{"field":"t","type":"quantitative","scale":{"domain":[-3.5,6],"nice":false,"zero":false},"axis":{"orient":"bottom","values":[-3.5,-3,-2.5,-2,-1.5,-1,-0.5,0,0.5,1,1.5,2,2.5,3,3.5,4,4.5,5,5.5,6],"labels":false,"title":null,"tickSize":{"condition":{"test":"abs(datum.value % 2) < 0.001","value":-7},"value":-3.5}}},"y":{"field":"ru","type":"quantitative","scale":{"domain":[-0.06,0.06],"nice":false,"zero":false},"axis":{"orient":"left","values":[-0.06,-0.05,-0.04,-0.03,-0.02,-0.01,0,0.01,0.02,0.03,0.04,0.05,0.06],"labels":false,"title":null,"tickSize":{"condition":{"test":"abs(datum.value*20 - round(datum.value*20)) < 0.001","value":-7},"value":-3.5}}}}},
   {"data":{"name":"model"},"transform":[{"filter":"datum.b === 'u'"}],"mark":{"type":"line","color":"#000","strokeWidth":1.4,"strokeDash":[9,5],"clip":true},"encoding":{"x":{"field":"t","type":"quantitative","axis":{"orient":"top","values":[-3.5,-3,-2.5,-2,-1.5,-1,-0.5,0,0.5,1,1.5,2,2.5,3,3.5,4,4.5,5,5.5,6],"labels":false,"title":null,"tickSize":{"condition":{"test":"abs(datum.value % 2) < 0.001","value":-7},"value":-3.5}}},"y":{"field":"rl","type":"quantitative","axis":{"orient":"right","values":[-0.06,-0.05,-0.04,-0.03,-0.02,-0.01,0,0.01,0.02,0.03,0.04,0.05,0.06],"title":null,"labelExpr":"abs(datum.value*20 - round(datum.value*20)) < 0.001 ? format(datum.value, '.2f') : ''","labelPadding":11,"tickSize":{"condition":{"test":"abs(datum.value*20 - round(datum.value*20)) < 0.001","value":-7},"value":-3.5}}}}},
   {"data":{"name":"t0"},"mark":{"type":"rule","color":"#3cf0d8","strokeWidth":1.8},"encoding":{"x":{"datum":-3.5,"type":"quantitative","axis":null},"x2":{"datum":5},"y":{"datum":0,"type":"quantitative","axis":null}}},
   {"data":{"name":"obs"},"transform":[{"filter":"datum.b === 'u' && datum.err >= 0.004"}],"mark":{"type":"rule","color":"#222","strokeWidth":1.2},"encoding":{"x":{"field":"t","type":"quantitative","axis":null},"y":{"field":"rlo","type":"quantitative","axis":null},"y2":{"field":"rhi"}}},
   {"data":{"name":"obs"},"transform":[{"filter":"datum.b === 'u' && datum.err >= 0.004"}],"mark":{"type":"tick","orient":"horizontal","size":9,"thickness":1.2,"color":"#222"},"encoding":{"x":{"field":"t","type":"quantitative","axis":null},"y":{"field":"rlo","type":"quantitative","axis":null}}},
   {"data":{"name":"obs"},"transform":[{"filter":"datum.b === 'u' && datum.err >= 0.004"}],"mark":{"type":"tick","orient":"horizontal","size":9,"thickness":1.2,"color":"#222"},"encoding":{"x":{"field":"t","type":"quantitative","axis":null},"y":{"field":"rhi","type":"quantitative","axis":null}}},
   {"data":{"name":"obs"},"transform":[{"filter":"datum.b === 'u'"}],"mark":{"type":"point","filled":true,"opacity":1,"stroke":"#333","strokeWidth":0.8,"clip":true},"encoding":{"x":{"field":"t","type":"quantitative","axis":null},"y":{"field":"res","type":"quantitative","axis":null},"fill":{"field":"b","type":"nominal","scale":{"domain":["UVW2","UVW1","u","g","V","r","clear","i"],"range":["#a020f0","#1e90ff","#3cf0d8","#1ee85a","#6eea14","#f5f511","#f57a0f","#f0143c"]},"legend":null},"shape":{"field":"m","type":"nominal","scale":{"domain":["circle","square","diamond","star"],"range":["circle","square","M0,-1L0.6,0L0,1L-0.6,0Z","M0,-1L0.235,-0.324L0.951,-0.309L0.38,0.124L0.588,0.809L0,0.4L-0.588,0.809L-0.38,0.124L-0.951,-0.309L-0.235,-0.324Z"]},"legend":null},"size":{"field":"m","type":"ordinal","scale":{"domain":["circle","square","diamond","star"],"range":[90,125,150,110]},"legend":null}}},
   {"data":{"name":"t0"},"mark":{"type":"text","text":"u","font":"DejaVu Serif","fontStyle":"italic","fontWeight":"bold","fontSize":19,"fill":"#3cf0d8","stroke":"#111","strokeWidth":0.7,"align":"center","baseline":"middle"},"encoding":{"x":{"datum":5.46,"type":"quantitative","axis":null},"y":{"datum":0.037,"type":"quantitative","axis":null}}}
  ],
  "resolve":{"axis":{"x":"independent","y":"independent"}}
 },
 {"width":532.3,"height":73.8,
  "layer":[
   {"data":{"name":"t0"},"mark":{"type":"rect","color":"#fdeadb"},"encoding":{"x":{"field":"lo","type":"quantitative","scale":{"domain":[-3.5,6],"nice":false,"zero":false},"axis":null},"x2":{"field":"hi"}}},
   {"data":{"name":"t0"},"mark":{"type":"rule","color":"#f8a978","strokeWidth":2},"encoding":{"x":{"field":"lo","type":"quantitative","axis":null}}},
   {"data":{"name":"t0"},"mark":{"type":"rule","color":"#f8a978","strokeWidth":2},"encoding":{"x":{"field":"hi","type":"quantitative","axis":null}}},
   {"data":{"name":"t0"},"mark":{"type":"rule","color":"#f07d1e","strokeWidth":2},"encoding":{"x":{"field":"mid","type":"quantitative","axis":null}}},
   {"data":{"name":"model"},"transform":[{"filter":"datum.b === 'g'"}],"mark":{"type":"line","color":"#000","strokeWidth":1.4,"strokeDash":[9,5],"clip":true},"encoding":{"x":{"field":"t","type":"quantitative","scale":{"domain":[-3.5,6],"nice":false,"zero":false},"axis":{"orient":"bottom","values":[-3.5,-3,-2.5,-2,-1.5,-1,-0.5,0,0.5,1,1.5,2,2.5,3,3.5,4,4.5,5,5.5,6],"labels":false,"title":null,"tickSize":{"condition":{"test":"abs(datum.value % 2) < 0.001","value":-7},"value":-3.5}}},"y":{"field":"ru","type":"quantitative","scale":{"domain":[-0.06,0.06],"nice":false,"zero":false},"axis":{"orient":"left","values":[-0.06,-0.05,-0.04,-0.03,-0.02,-0.01,0,0.01,0.02,0.03,0.04,0.05,0.06],"title":"Residuals","titleX":-71.7,"titleY":73.8,"titleBaseline":"middle","labelExpr":"abs(datum.value*20 - round(datum.value*20)) < 0.001 ? format(datum.value, '.2f') : ''","labelPadding":11,"tickSize":{"condition":{"test":"abs(datum.value*20 - round(datum.value*20)) < 0.001","value":-7},"value":-3.5}}}}},
   {"data":{"name":"model"},"transform":[{"filter":"datum.b === 'g'"}],"mark":{"type":"line","color":"#000","strokeWidth":1.4,"strokeDash":[9,5],"clip":true},"encoding":{"x":{"field":"t","type":"quantitative","axis":{"orient":"top","values":[-3.5,-3,-2.5,-2,-1.5,-1,-0.5,0,0.5,1,1.5,2,2.5,3,3.5,4,4.5,5,5.5,6],"labels":false,"title":null,"tickSize":{"condition":{"test":"abs(datum.value % 2) < 0.001","value":-7},"value":-3.5}}},"y":{"field":"rl","type":"quantitative","axis":{"orient":"right","values":[-0.06,-0.05,-0.04,-0.03,-0.02,-0.01,0,0.01,0.02,0.03,0.04,0.05,0.06],"labels":false,"title":null,"tickSize":{"condition":{"test":"abs(datum.value*20 - round(datum.value*20)) < 0.001","value":-7},"value":-3.5}}}}},
   {"data":{"name":"t0"},"mark":{"type":"rule","color":"#1ee85a","strokeWidth":1.8},"encoding":{"x":{"datum":-3.5,"type":"quantitative","axis":null},"x2":{"datum":5},"y":{"datum":0,"type":"quantitative","axis":null}}},
   {"data":{"name":"obs"},"transform":[{"filter":"datum.b === 'g' && datum.err >= 0.004"}],"mark":{"type":"rule","color":"#222","strokeWidth":1.2},"encoding":{"x":{"field":"t","type":"quantitative","axis":null},"y":{"field":"rlo","type":"quantitative","axis":null},"y2":{"field":"rhi"}}},
   {"data":{"name":"obs"},"transform":[{"filter":"datum.b === 'g' && datum.err >= 0.004"}],"mark":{"type":"tick","orient":"horizontal","size":9,"thickness":1.2,"color":"#222"},"encoding":{"x":{"field":"t","type":"quantitative","axis":null},"y":{"field":"rlo","type":"quantitative","axis":null}}},
   {"data":{"name":"obs"},"transform":[{"filter":"datum.b === 'g' && datum.err >= 0.004"}],"mark":{"type":"tick","orient":"horizontal","size":9,"thickness":1.2,"color":"#222"},"encoding":{"x":{"field":"t","type":"quantitative","axis":null},"y":{"field":"rhi","type":"quantitative","axis":null}}},
   {"data":{"name":"obs"},"transform":[{"filter":"datum.b === 'g'"}],"mark":{"type":"point","filled":true,"opacity":1,"stroke":"#333","strokeWidth":0.8,"clip":true},"encoding":{"x":{"field":"t","type":"quantitative","axis":null},"y":{"field":"res","type":"quantitative","axis":null},"fill":{"field":"b","type":"nominal","scale":{"domain":["UVW2","UVW1","u","g","V","r","clear","i"],"range":["#a020f0","#1e90ff","#3cf0d8","#1ee85a","#6eea14","#f5f511","#f57a0f","#f0143c"]},"legend":null},"shape":{"field":"m","type":"nominal","scale":{"domain":["circle","square","diamond","star"],"range":["circle","square","M0,-1L0.6,0L0,1L-0.6,0Z","M0,-1L0.235,-0.324L0.951,-0.309L0.38,0.124L0.588,0.809L0,0.4L-0.588,0.809L-0.38,0.124L-0.951,-0.309L-0.235,-0.324Z"]},"legend":null},"size":{"field":"m","type":"ordinal","scale":{"domain":["circle","square","diamond","star"],"range":[90,125,150,110]},"legend":null}}},
   {"data":{"name":"t0"},"mark":{"type":"text","text":"g","font":"DejaVu Serif","fontStyle":"italic","fontWeight":"bold","fontSize":19,"fill":"#1ee85a","stroke":"#111","strokeWidth":0.7,"align":"center","baseline":"middle"},"encoding":{"x":{"datum":5.46,"type":"quantitative","axis":null},"y":{"datum":0.036,"type":"quantitative","axis":null}}}
  ],
  "resolve":{"axis":{"x":"independent","y":"independent"}}
 },
 {"width":532.3,"height":73.8,
  "layer":[
   {"data":{"name":"t0"},"mark":{"type":"rect","color":"#fdeadb"},"encoding":{"x":{"field":"lo","type":"quantitative","scale":{"domain":[-3.5,6],"nice":false,"zero":false},"axis":null},"x2":{"field":"hi"}}},
   {"data":{"name":"t0"},"mark":{"type":"rule","color":"#f8a978","strokeWidth":2},"encoding":{"x":{"field":"lo","type":"quantitative","axis":null}}},
   {"data":{"name":"t0"},"mark":{"type":"rule","color":"#f8a978","strokeWidth":2},"encoding":{"x":{"field":"hi","type":"quantitative","axis":null}}},
   {"data":{"name":"t0"},"mark":{"type":"rule","color":"#f07d1e","strokeWidth":2},"encoding":{"x":{"field":"mid","type":"quantitative","axis":null}}},
   {"data":{"name":"model"},"transform":[{"filter":"datum.b === 'V'"}],"mark":{"type":"line","color":"#000","strokeWidth":1.4,"strokeDash":[9,5],"clip":true},"encoding":{"x":{"field":"t","type":"quantitative","scale":{"domain":[-3.5,6],"nice":false,"zero":false},"axis":{"orient":"bottom","values":[-3.5,-3,-2.5,-2,-1.5,-1,-0.5,0,0.5,1,1.5,2,2.5,3,3.5,4,4.5,5,5.5,6],"labels":false,"title":null,"tickSize":{"condition":{"test":"abs(datum.value % 2) < 0.001","value":-7},"value":-3.5}}},"y":{"field":"ru","type":"quantitative","scale":{"domain":[-0.06,0.06],"nice":false,"zero":false},"axis":{"orient":"left","values":[-0.06,-0.05,-0.04,-0.03,-0.02,-0.01,0,0.01,0.02,0.03,0.04,0.05,0.06],"labels":false,"title":null,"tickSize":{"condition":{"test":"abs(datum.value*20 - round(datum.value*20)) < 0.001","value":-7},"value":-3.5}}}}},
   {"data":{"name":"model"},"transform":[{"filter":"datum.b === 'V'"}],"mark":{"type":"line","color":"#000","strokeWidth":1.4,"strokeDash":[9,5],"clip":true},"encoding":{"x":{"field":"t","type":"quantitative","axis":{"orient":"top","values":[-3.5,-3,-2.5,-2,-1.5,-1,-0.5,0,0.5,1,1.5,2,2.5,3,3.5,4,4.5,5,5.5,6],"labels":false,"title":null,"tickSize":{"condition":{"test":"abs(datum.value % 2) < 0.001","value":-7},"value":-3.5}}},"y":{"field":"rl","type":"quantitative","axis":{"orient":"right","values":[-0.06,-0.05,-0.04,-0.03,-0.02,-0.01,0,0.01,0.02,0.03,0.04,0.05,0.06],"title":null,"labelExpr":"abs(datum.value*20 - round(datum.value*20)) < 0.001 ? format(datum.value, '.2f') : ''","labelPadding":11,"tickSize":{"condition":{"test":"abs(datum.value*20 - round(datum.value*20)) < 0.001","value":-7},"value":-3.5}}}}},
   {"data":{"name":"t0"},"mark":{"type":"rule","color":"#6eea14","strokeWidth":1.8},"encoding":{"x":{"datum":-3.5,"type":"quantitative","axis":null},"x2":{"datum":5},"y":{"datum":0,"type":"quantitative","axis":null}}},
   {"data":{"name":"obs"},"transform":[{"filter":"datum.b === 'V' && datum.err >= 0.004"}],"mark":{"type":"rule","color":"#222","strokeWidth":1.2},"encoding":{"x":{"field":"t","type":"quantitative","axis":null},"y":{"field":"rlo","type":"quantitative","axis":null},"y2":{"field":"rhi"}}},
   {"data":{"name":"obs"},"transform":[{"filter":"datum.b === 'V' && datum.err >= 0.004"}],"mark":{"type":"tick","orient":"horizontal","size":9,"thickness":1.2,"color":"#222"},"encoding":{"x":{"field":"t","type":"quantitative","axis":null},"y":{"field":"rlo","type":"quantitative","axis":null}}},
   {"data":{"name":"obs"},"transform":[{"filter":"datum.b === 'V' && datum.err >= 0.004"}],"mark":{"type":"tick","orient":"horizontal","size":9,"thickness":1.2,"color":"#222"},"encoding":{"x":{"field":"t","type":"quantitative","axis":null},"y":{"field":"rhi","type":"quantitative","axis":null}}},
   {"data":{"name":"obs"},"transform":[{"filter":"datum.b === 'V'"}],"mark":{"type":"point","filled":true,"opacity":1,"stroke":"#333","strokeWidth":0.8,"clip":true},"encoding":{"x":{"field":"t","type":"quantitative","axis":null},"y":{"field":"res","type":"quantitative","axis":null},"fill":{"field":"b","type":"nominal","scale":{"domain":["UVW2","UVW1","u","g","V","r","clear","i"],"range":["#a020f0","#1e90ff","#3cf0d8","#1ee85a","#6eea14","#f5f511","#f57a0f","#f0143c"]},"legend":null},"shape":{"field":"m","type":"nominal","scale":{"domain":["circle","square","diamond","star"],"range":["circle","square","M0,-1L0.6,0L0,1L-0.6,0Z","M0,-1L0.235,-0.324L0.951,-0.309L0.38,0.124L0.588,0.809L0,0.4L-0.588,0.809L-0.38,0.124L-0.951,-0.309L-0.235,-0.324Z"]},"legend":null},"size":{"field":"m","type":"ordinal","scale":{"domain":["circle","square","diamond","star"],"range":[90,125,150,110]},"legend":null}}},
   {"data":{"name":"t0"},"mark":{"type":"text","text":"V","font":"DejaVu Serif","fontStyle":"italic","fontWeight":"bold","fontSize":19,"fill":"#6eea14","stroke":"#111","strokeWidth":0.7,"align":"center","baseline":"middle"},"encoding":{"x":{"datum":5.46,"type":"quantitative","axis":null},"y":{"datum":0.035,"type":"quantitative","axis":null}}}
  ],
  "resolve":{"axis":{"x":"independent","y":"independent"}}
 },
 {"width":532.3,"height":73.8,
  "layer":[
   {"data":{"name":"t0"},"mark":{"type":"rect","color":"#fdeadb"},"encoding":{"x":{"field":"lo","type":"quantitative","scale":{"domain":[-3.5,6],"nice":false,"zero":false},"axis":null},"x2":{"field":"hi"}}},
   {"data":{"name":"t0"},"mark":{"type":"rule","color":"#f8a978","strokeWidth":2},"encoding":{"x":{"field":"lo","type":"quantitative","axis":null}}},
   {"data":{"name":"t0"},"mark":{"type":"rule","color":"#f8a978","strokeWidth":2},"encoding":{"x":{"field":"hi","type":"quantitative","axis":null}}},
   {"data":{"name":"t0"},"mark":{"type":"rule","color":"#f07d1e","strokeWidth":2},"encoding":{"x":{"field":"mid","type":"quantitative","axis":null}}},
   {"data":{"name":"model"},"transform":[{"filter":"datum.b === 'r'"}],"mark":{"type":"line","color":"#000","strokeWidth":1.4,"strokeDash":[9,5],"clip":true},"encoding":{"x":{"field":"t","type":"quantitative","scale":{"domain":[-3.5,6],"nice":false,"zero":false},"axis":{"orient":"bottom","values":[-3.5,-3,-2.5,-2,-1.5,-1,-0.5,0,0.5,1,1.5,2,2.5,3,3.5,4,4.5,5,5.5,6],"labels":false,"title":null,"tickSize":{"condition":{"test":"abs(datum.value % 2) < 0.001","value":-7},"value":-3.5}}},"y":{"field":"ru","type":"quantitative","scale":{"domain":[-0.06,0.06],"nice":false,"zero":false},"axis":{"orient":"left","values":[-0.06,-0.05,-0.04,-0.03,-0.02,-0.01,0,0.01,0.02,0.03,0.04,0.05,0.06],"title":null,"labelExpr":"abs(datum.value*20 - round(datum.value*20)) < 0.001 ? format(datum.value, '.2f') : ''","labelPadding":11,"tickSize":{"condition":{"test":"abs(datum.value*20 - round(datum.value*20)) < 0.001","value":-7},"value":-3.5}}}}},
   {"data":{"name":"model"},"transform":[{"filter":"datum.b === 'r'"}],"mark":{"type":"line","color":"#000","strokeWidth":1.4,"strokeDash":[9,5],"clip":true},"encoding":{"x":{"field":"t","type":"quantitative","axis":{"orient":"top","values":[-3.5,-3,-2.5,-2,-1.5,-1,-0.5,0,0.5,1,1.5,2,2.5,3,3.5,4,4.5,5,5.5,6],"labels":false,"title":null,"tickSize":{"condition":{"test":"abs(datum.value % 2) < 0.001","value":-7},"value":-3.5}}},"y":{"field":"rl","type":"quantitative","axis":{"orient":"right","values":[-0.06,-0.05,-0.04,-0.03,-0.02,-0.01,0,0.01,0.02,0.03,0.04,0.05,0.06],"labels":false,"title":null,"tickSize":{"condition":{"test":"abs(datum.value*20 - round(datum.value*20)) < 0.001","value":-7},"value":-3.5}}}}},
   {"data":{"name":"t0"},"mark":{"type":"rule","color":"#f5f511","strokeWidth":1.8},"encoding":{"x":{"datum":-3.5,"type":"quantitative","axis":null},"x2":{"datum":5},"y":{"datum":0,"type":"quantitative","axis":null}}},
   {"data":{"name":"obs"},"transform":[{"filter":"datum.b === 'r' && datum.err >= 0.004"}],"mark":{"type":"rule","color":"#222","strokeWidth":1.2},"encoding":{"x":{"field":"t","type":"quantitative","axis":null},"y":{"field":"rlo","type":"quantitative","axis":null},"y2":{"field":"rhi"}}},
   {"data":{"name":"obs"},"transform":[{"filter":"datum.b === 'r' && datum.err >= 0.004"}],"mark":{"type":"tick","orient":"horizontal","size":9,"thickness":1.2,"color":"#222"},"encoding":{"x":{"field":"t","type":"quantitative","axis":null},"y":{"field":"rlo","type":"quantitative","axis":null}}},
   {"data":{"name":"obs"},"transform":[{"filter":"datum.b === 'r' && datum.err >= 0.004"}],"mark":{"type":"tick","orient":"horizontal","size":9,"thickness":1.2,"color":"#222"},"encoding":{"x":{"field":"t","type":"quantitative","axis":null},"y":{"field":"rhi","type":"quantitative","axis":null}}},
   {"data":{"name":"obs"},"transform":[{"filter":"datum.b === 'r'"}],"mark":{"type":"point","filled":true,"opacity":1,"stroke":"#333","strokeWidth":0.8,"clip":true},"encoding":{"x":{"field":"t","type":"quantitative","axis":null},"y":{"field":"res","type":"quantitative","axis":null},"fill":{"field":"b","type":"nominal","scale":{"domain":["UVW2","UVW1","u","g","V","r","clear","i"],"range":["#a020f0","#1e90ff","#3cf0d8","#1ee85a","#6eea14","#f5f511","#f57a0f","#f0143c"]},"legend":null},"shape":{"field":"m","type":"nominal","scale":{"domain":["circle","square","diamond","star"],"range":["circle","square","M0,-1L0.6,0L0,1L-0.6,0Z","M0,-1L0.235,-0.324L0.951,-0.309L0.38,0.124L0.588,0.809L0,0.4L-0.588,0.809L-0.38,0.124L-0.951,-0.309L-0.235,-0.324Z"]},"legend":null},"size":{"field":"m","type":"ordinal","scale":{"domain":["circle","square","diamond","star"],"range":[90,125,150,110]},"legend":null}}},
   {"data":{"name":"t0"},"mark":{"type":"text","text":"r","font":"DejaVu Serif","fontStyle":"italic","fontWeight":"bold","fontSize":19,"fill":"#f5f511","stroke":"#111","strokeWidth":0.7,"align":"center","baseline":"middle"},"encoding":{"x":{"datum":5.46,"type":"quantitative","axis":null},"y":{"datum":0.036,"type":"quantitative","axis":null}}}
  ],
  "resolve":{"axis":{"x":"independent","y":"independent"}}
 },
 {"width":532.3,"height":73.8,
  "layer":[
   {"data":{"name":"t0"},"mark":{"type":"rect","color":"#fdeadb"},"encoding":{"x":{"field":"lo","type":"quantitative","scale":{"domain":[-3.5,6],"nice":false,"zero":false},"axis":null},"x2":{"field":"hi"}}},
   {"data":{"name":"t0"},"mark":{"type":"rule","color":"#f8a978","strokeWidth":2},"encoding":{"x":{"field":"lo","type":"quantitative","axis":null}}},
   {"data":{"name":"t0"},"mark":{"type":"rule","color":"#f8a978","strokeWidth":2},"encoding":{"x":{"field":"hi","type":"quantitative","axis":null}}},
   {"data":{"name":"t0"},"mark":{"type":"rule","color":"#f07d1e","strokeWidth":2},"encoding":{"x":{"field":"mid","type":"quantitative","axis":null}}},
   {"data":{"name":"model"},"transform":[{"filter":"datum.b === 'clear'"}],"mark":{"type":"line","color":"#000","strokeWidth":1.4,"strokeDash":[9,5],"clip":true},"encoding":{"x":{"field":"t","type":"quantitative","scale":{"domain":[-3.5,6],"nice":false,"zero":false},"axis":{"orient":"bottom","values":[-3.5,-3,-2.5,-2,-1.5,-1,-0.5,0,0.5,1,1.5,2,2.5,3,3.5,4,4.5,5,5.5,6],"labels":false,"title":null,"tickSize":{"condition":{"test":"abs(datum.value % 2) < 0.001","value":-7},"value":-3.5}}},"y":{"field":"ru","type":"quantitative","scale":{"domain":[-0.082,0.082],"nice":false,"zero":false},"axis":{"orient":"left","values":[-0.08,-0.07,-0.06,-0.05,-0.04,-0.03,-0.02,-0.01,0,0.01,0.02,0.03,0.04,0.05,0.06,0.07,0.08],"labels":false,"title":null,"tickSize":{"condition":{"test":"abs(datum.value*20 - round(datum.value*20)) < 0.001","value":-7},"value":-3.5}}}}},
   {"data":{"name":"model"},"transform":[{"filter":"datum.b === 'clear'"}],"mark":{"type":"line","color":"#000","strokeWidth":1.4,"strokeDash":[9,5],"clip":true},"encoding":{"x":{"field":"t","type":"quantitative","axis":{"orient":"top","values":[-3.5,-3,-2.5,-2,-1.5,-1,-0.5,0,0.5,1,1.5,2,2.5,3,3.5,4,4.5,5,5.5,6],"labels":false,"title":null,"tickSize":{"condition":{"test":"abs(datum.value % 2) < 0.001","value":-7},"value":-3.5}}},"y":{"field":"rl","type":"quantitative","axis":{"orient":"right","values":[-0.08,-0.07,-0.06,-0.05,-0.04,-0.03,-0.02,-0.01,0,0.01,0.02,0.03,0.04,0.05,0.06,0.07,0.08],"title":null,"labelExpr":"abs(datum.value*20 - round(datum.value*20)) < 0.001 ? format(datum.value, '.2f') : ''","labelPadding":11,"tickSize":{"condition":{"test":"abs(datum.value*20 - round(datum.value*20)) < 0.001","value":-7},"value":-3.5}}}}},
   {"data":{"name":"t0"},"mark":{"type":"rule","color":"#f57a0f","strokeWidth":1.8},"encoding":{"x":{"datum":-3.5,"type":"quantitative","axis":null},"x2":{"datum":5},"y":{"datum":0,"type":"quantitative","axis":null}}},
   {"data":{"name":"obs"},"transform":[{"filter":"datum.b === 'clear' && datum.err >= 0.004"}],"mark":{"type":"rule","color":"#222","strokeWidth":1.2},"encoding":{"x":{"field":"t","type":"quantitative","axis":null},"y":{"field":"rlo","type":"quantitative","axis":null},"y2":{"field":"rhi"}}},
   {"data":{"name":"obs"},"transform":[{"filter":"datum.b === 'clear' && datum.err >= 0.004"}],"mark":{"type":"tick","orient":"horizontal","size":9,"thickness":1.2,"color":"#222"},"encoding":{"x":{"field":"t","type":"quantitative","axis":null},"y":{"field":"rlo","type":"quantitative","axis":null}}},
   {"data":{"name":"obs"},"transform":[{"filter":"datum.b === 'clear' && datum.err >= 0.004"}],"mark":{"type":"tick","orient":"horizontal","size":9,"thickness":1.2,"color":"#222"},"encoding":{"x":{"field":"t","type":"quantitative","axis":null},"y":{"field":"rhi","type":"quantitative","axis":null}}},
   {"data":{"name":"obs"},"transform":[{"filter":"datum.b === 'clear'"}],"mark":{"type":"point","filled":true,"opacity":1,"stroke":"#333","strokeWidth":0.8,"clip":true},"encoding":{"x":{"field":"t","type":"quantitative","axis":null},"y":{"field":"res","type":"quantitative","axis":null},"fill":{"field":"b","type":"nominal","scale":{"domain":["UVW2","UVW1","u","g","V","r","clear","i"],"range":["#a020f0","#1e90ff","#3cf0d8","#1ee85a","#6eea14","#f5f511","#f57a0f","#f0143c"]},"legend":null},"shape":{"field":"m","type":"nominal","scale":{"domain":["circle","square","diamond","star"],"range":["circle","square","M0,-1L0.6,0L0,1L-0.6,0Z","M0,-1L0.235,-0.324L0.951,-0.309L0.38,0.124L0.588,0.809L0,0.4L-0.588,0.809L-0.38,0.124L-0.951,-0.309L-0.235,-0.324Z"]},"legend":null},"size":{"field":"m","type":"ordinal","scale":{"domain":["circle","square","diamond","star"],"range":[90,125,150,110]},"legend":null}}},
   {"data":{"name":"t0"},"mark":{"type":"text","text":"clear","font":"DejaVu Sans","fontSize":18.5,"fill":"#f57a0f","stroke":"#111","strokeWidth":0.7,"align":"center","baseline":"middle"},"encoding":{"x":{"datum":5.46,"type":"quantitative","axis":null},"y":{"datum":0.045,"type":"quantitative","axis":null}}}
  ],
  "resolve":{"axis":{"x":"independent","y":"independent"}}
 },
 {"width":532.3,"height":73.8,
  "layer":[
   {"data":{"name":"t0"},"mark":{"type":"rect","color":"#fdeadb"},"encoding":{"x":{"field":"lo","type":"quantitative","scale":{"domain":[-3.5,6],"nice":false,"zero":false},"axis":null},"x2":{"field":"hi"}}},
   {"data":{"name":"t0"},"mark":{"type":"rule","color":"#f8a978","strokeWidth":2},"encoding":{"x":{"field":"lo","type":"quantitative","axis":null}}},
   {"data":{"name":"t0"},"mark":{"type":"rule","color":"#f8a978","strokeWidth":2},"encoding":{"x":{"field":"hi","type":"quantitative","axis":null}}},
   {"data":{"name":"t0"},"mark":{"type":"rule","color":"#f07d1e","strokeWidth":2},"encoding":{"x":{"field":"mid","type":"quantitative","axis":null}}},
   {"data":{"name":"model"},"transform":[{"filter":"datum.b === 'i'"}],"mark":{"type":"line","color":"#000","strokeWidth":1.4,"strokeDash":[9,5],"clip":true},"encoding":{"x":{"field":"t","type":"quantitative","scale":{"domain":[-3.5,6],"nice":false,"zero":false},"axis":{"orient":"bottom","values":[-3.5,-3,-2.5,-2,-1.5,-1,-0.5,0,0.5,1,1.5,2,2.5,3,3.5,4,4.5,5,5.5,6],"title":"Time Since Discovery (days)","labelExpr":"abs(datum.value % 2) < 0.001 ? format(datum.value, 'd') : ''","labelPadding":10,"titlePadding":1,"tickSize":{"condition":{"test":"abs(datum.value % 2) < 0.001","value":-7},"value":-3.5}}},"y":{"field":"ru","type":"quantitative","scale":{"domain":[-0.06,0.06],"nice":false,"zero":false},"axis":{"orient":"left","values":[-0.06,-0.05,-0.04,-0.03,-0.02,-0.01,0,0.01,0.02,0.03,0.04,0.05,0.06],"title":null,"labelExpr":"abs(datum.value*20 - round(datum.value*20)) < 0.001 ? format(datum.value, '.2f') : ''","labelPadding":11,"tickSize":{"condition":{"test":"abs(datum.value*20 - round(datum.value*20)) < 0.001","value":-7},"value":-3.5}}}}},
   {"data":{"name":"model"},"transform":[{"filter":"datum.b === 'i'"}],"mark":{"type":"line","color":"#000","strokeWidth":1.4,"strokeDash":[9,5],"clip":true},"encoding":{"x":{"field":"t","type":"quantitative","axis":{"orient":"top","values":[-3.5,-3,-2.5,-2,-1.5,-1,-0.5,0,0.5,1,1.5,2,2.5,3,3.5,4,4.5,5,5.5,6],"labels":false,"title":null,"tickSize":{"condition":{"test":"abs(datum.value % 2) < 0.001","value":-7},"value":-3.5}}},"y":{"field":"rl","type":"quantitative","axis":{"orient":"right","values":[-0.06,-0.05,-0.04,-0.03,-0.02,-0.01,0,0.01,0.02,0.03,0.04,0.05,0.06],"labels":false,"title":null,"tickSize":{"condition":{"test":"abs(datum.value*20 - round(datum.value*20)) < 0.001","value":-7},"value":-3.5}}}}},
   {"data":{"name":"t0"},"mark":{"type":"rule","color":"#f0143c","strokeWidth":1.8},"encoding":{"x":{"datum":-3.5,"type":"quantitative","axis":null},"x2":{"datum":5},"y":{"datum":0,"type":"quantitative","axis":null}}},
   {"data":{"name":"obs"},"transform":[{"filter":"datum.b === 'i' && datum.err >= 0.004"}],"mark":{"type":"rule","color":"#222","strokeWidth":1.2},"encoding":{"x":{"field":"t","type":"quantitative","axis":null},"y":{"field":"rlo","type":"quantitative","axis":null},"y2":{"field":"rhi"}}},
   {"data":{"name":"obs"},"transform":[{"filter":"datum.b === 'i' && datum.err >= 0.004"}],"mark":{"type":"tick","orient":"horizontal","size":9,"thickness":1.2,"color":"#222"},"encoding":{"x":{"field":"t","type":"quantitative","axis":null},"y":{"field":"rlo","type":"quantitative","axis":null}}},
   {"data":{"name":"obs"},"transform":[{"filter":"datum.b === 'i' && datum.err >= 0.004"}],"mark":{"type":"tick","orient":"horizontal","size":9,"thickness":1.2,"color":"#222"},"encoding":{"x":{"field":"t","type":"quantitative","axis":null},"y":{"field":"rhi","type":"quantitative","axis":null}}},
   {"data":{"name":"obs"},"transform":[{"filter":"datum.b === 'i'"}],"mark":{"type":"point","filled":true,"opacity":1,"stroke":"#333","strokeWidth":0.8,"clip":true},"encoding":{"x":{"field":"t","type":"quantitative","axis":null},"y":{"field":"res","type":"quantitative","axis":null},"fill":{"field":"b","type":"nominal","scale":{"domain":["UVW2","UVW1","u","g","V","r","clear","i"],"range":["#a020f0","#1e90ff","#3cf0d8","#1ee85a","#6eea14","#f5f511","#f57a0f","#f0143c"]},"legend":null},"shape":{"field":"m","type":"nominal","scale":{"domain":["circle","square","diamond","star"],"range":["circle","square","M0,-1L0.6,0L0,1L-0.6,0Z","M0,-1L0.235,-0.324L0.951,-0.309L0.38,0.124L0.588,0.809L0,0.4L-0.588,0.809L-0.38,0.124L-0.951,-0.309L-0.235,-0.324Z"]},"legend":null},"size":{"field":"m","type":"ordinal","scale":{"domain":["circle","square","diamond","star"],"range":[90,125,150,110]},"legend":null}}},
   {"data":{"name":"t0"},"mark":{"type":"text","text":"i","font":"DejaVu Serif","fontStyle":"italic","fontWeight":"bold","fontSize":19,"fill":"#f0143c","stroke":"#111","strokeWidth":0.7,"align":"center","baseline":"middle"},"encoding":{"x":{"datum":5.46,"type":"quantitative","axis":null},"y":{"datum":0.034,"type":"quantitative","axis":null}}}
  ],
  "resolve":{"axis":{"x":"independent","y":"independent"}}
 }
]
}
